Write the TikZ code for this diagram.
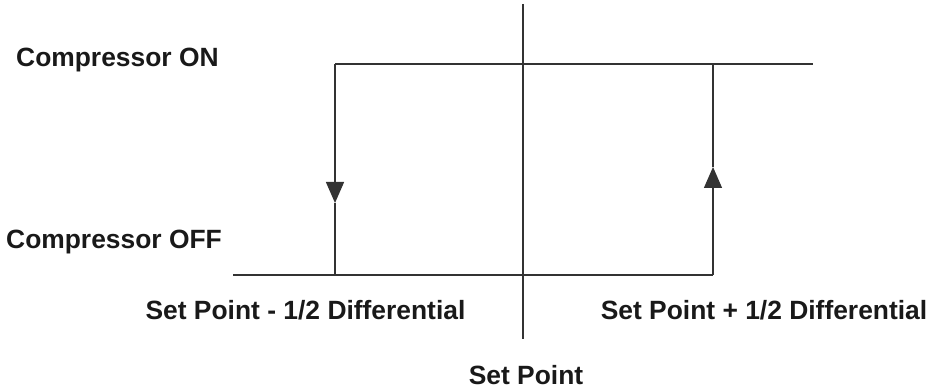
\documentclass[tikz,border=0pt]{standalone}
\usepackage{fontspec}
\setmainfont{Liberation Sans}
\usetikzlibrary{arrows.meta}
\begin{document}
\begin{tikzpicture}[x=1pt,y=1pt,
  lbl/.style={inner sep=0pt,font=\fontsize{26.4}{30}\selectfont\bfseries,text=black!90},
  ln/.style={line width=1.3pt,draw=black!80},
  tri/.style={-{Triangle[width=18pt,length=21pt]}}]
\useasboundingbox (0,0) rectangle (933,390);
% coordinates (y measured from bottom)
\coordinate (ctop) at (523,386);
\coordinate (cbot) at (523,51);
\coordinate (onL) at (335,326);
\coordinate (onR) at (813,326);
\coordinate (offL) at (233,115);
\coordinate (offR) at (713,115);
\coordinate (dnL) at (335,115);
\coordinate (upR) at (713,326);
\coordinate (tipL) at (335,187);
\coordinate (tipR) at (713,223);
\draw[ln] (ctop) -- (cbot);
\draw[ln] (onL) -- (onR);
\draw[ln] (offL) -- (offR);
\draw[ln,tri] (onL) -- (tipL);
\draw[ln] (tipL) -- (dnL);
\draw[ln,tri] (offR) -- (tipR);
\draw[ln] (tipR) -- (upR);
\node[lbl,anchor=base west] (on) at (16,323) {Compressor ON};
\node[lbl,anchor=base west] (off) at (6,141) {Compressor OFF};
\node[lbl,anchor=base] (spm) at (305.5,70) {Set Point - 1/2 Differential};
\node[lbl,anchor=base] (spp) at (764,70) {Set Point + 1/2 Differential};
\node[lbl,anchor=base] (sp) at (526,5) {Set Point};
\end{tikzpicture}
\end{document}
